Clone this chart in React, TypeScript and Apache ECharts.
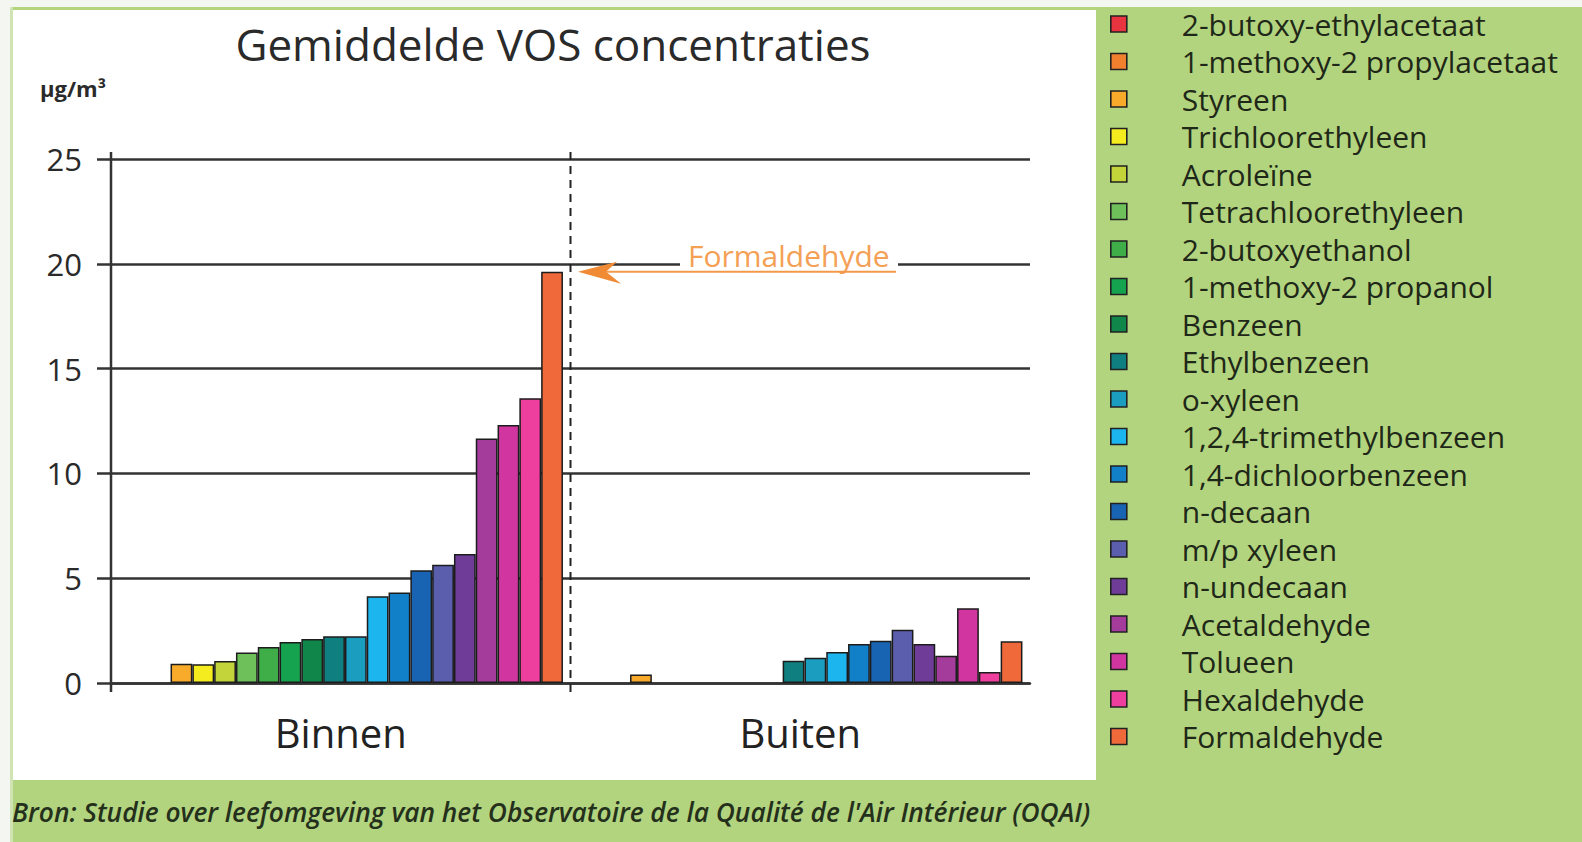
import React, { useEffect, useRef } from 'react';
import * as echarts from 'echarts';

// ---------- data ----------
const groups = ['Binnen', 'Buiten'];
const species = [
  '2-butoxy-ethylacetaat',
  '1-methoxy-2 propylacetaat',
  'Styreen',
  'Trichloorethyleen',
  'Acroleïne',
  'Tetrachloorethyleen',
  '2-butoxyethanol',
  '1-methoxy-2 propanol',
  'Benzeen',
  'Ethylbenzeen',
  'o-xyleen',
  '1,2,4-trimethylbenzeen',
  '1,4-dichloorbenzeen',
  'n-decaan',
  'm/p xyleen',
  'n-undecaan',
  'Acetaldehyde',
  'Tolueen',
  'Hexaldehyde',
  'Formaldehyde',
];
const binnenValues = [null, null, 0.92, 0.9, 1.05, 1.45, 1.72, 1.96, 2.1, 2.23, 2.23, 4.14, 4.32, 5.38, 5.64, 6.16, 11.67, 12.31, 13.58, 19.62];
const buitenValues = [null, null, 0.4, null, null, null, null, null, null, 1.06, 1.21, 1.48, 1.86, 2.01, 2.54, 1.86, 1.3, 3.57, 0.53, 1.99];
const speciesColors = [
  '#e8343f', '#f07f2e', '#f8aa2a', '#f4ec1e', '#c3d43a', '#6ec15a', '#3fae49', '#16a350',
  '#11864a', '#0f7f7f', '#1a9dbf', '#1cb5ee', '#1280c9', '#1963b3', '#5a5ead', '#6f3c98',
  '#a43c9c', '#d1359f', '#ef3f9e', '#f0693a',
];
const yMin = 0;
const yMax = 25;
const yInterval = 5;
const titleText = 'Gemiddelde VOS concentraties';
const unitText = 'µg/m³';
const annotationText = 'Formaldehyde';
const sourceText = "Bron: Studie over leefomgeving van het Observatoire de la Qualité de l'Air Intérieur (OQAI)";

// ---------- layout ----------
const W = 1582;
const H = 842;
const FONT = "'Open Sans', 'Noto Sans', sans-serif";
const gridLeft = 111;
const gridWidth = 919;
const gridTop = 159;
const gridBottom = 159;
const barShift = 26;
const plotTop = gridTop;
const plotBottom = H - gridBottom;
const yPix = (v: number) => plotBottom - ((v - yMin) / (yMax - yMin)) * (plotBottom - plotTop);

export default function App() {
  const ref = useRef<HTMLDivElement>(null);

  useEffect(() => {
    if (!ref.current) return;
    const chart = echarts.init(ref.current, null, { renderer: 'svg' });

    const series = species.map((name, i) => ({
      name,
      type: 'bar',
      xAxisIndex: 1,
      yAxisIndex: 1,
      stack: i < 2 ? species[2] : name,
      barWidth: 21.8,
      barGap: '0%',
      data: [binnenValues[i], buitenValues[i]],
      itemStyle: { color: speciesColors[i], borderColor: '#1c1c1c', borderWidth: 1.5 },
      z: 3,
    }));

    const dividerX = gridLeft + gridWidth / 2;
    const arrowY = yPix(20) + 8;

    chart.setOption({
      animation: false,
      backgroundColor: 'transparent',
      color: speciesColors,
      title: {
        text: titleText,
        left: 548,
        textAlign: 'center',
        top: 17,
        textStyle: { fontFamily: FONT, fontSize: 44, fontWeight: 'normal', color: '#2a2a2a' },
      },
      legend: {
        orient: 'vertical',
        left: 1110,
        top: 9,
        padding: 0,
        icon: 'rect',
        itemWidth: 16,
        itemHeight: 16,
        itemGap: 7.5,
        selectedMode: false,
        data: species,
        itemStyle: { borderColor: '#222', borderWidth: 1.6 },
        textStyle: {
          fontFamily: FONT,
          fontSize: 30,
          lineHeight: 30,
          color: '#1f2818',
          padding: [0, 0, 0, 50],
        },
      },
      grid: [
        { left: gridLeft, width: gridWidth, top: gridTop, bottom: gridBottom, containLabel: false },
        { left: gridLeft + barShift, width: gridWidth, top: gridTop, bottom: gridBottom, containLabel: false },
      ],
      xAxis: [
        {
          type: 'category',
          gridIndex: 0,
          data: groups,
          axisLine: { show: true, lineStyle: { color: '#333', width: 2.5 } },
          axisTick: { show: false },
          axisLabel: { fontFamily: FONT, fontSize: 40, color: '#222', margin: 29 },
          splitLine: { show: false },
        },
        { type: 'category', gridIndex: 1, data: groups, show: false },
      ],
      yAxis: [
        {
          type: 'value',
          gridIndex: 0,
          min: yMin,
          max: yMax,
          interval: yInterval,
          axisLine: { show: false },
          axisTick: { show: true, length: 14, lineStyle: { color: '#333', width: 2.5 } },
          axisLabel: { fontFamily: FONT, fontSize: 31, color: '#2a2a2a', margin: 29 },
          splitLine: { show: true, lineStyle: { color: '#333', width: 2.5 } },
        },
        { type: 'value', gridIndex: 1, min: yMin, max: yMax, interval: yInterval, show: false },
      ],
      series,
      graphic: [
        {
          type: 'text',
          left: 40,
          top: 77,
          style: { text: unitText, fontFamily: FONT, fontSize: 22, fontWeight: 'bold', fill: '#2a2a2a' },
        },
        // y axis line (extends slightly beyond range)
        {
          type: 'line',
          z: 4,
          shape: { x1: gridLeft, y1: plotTop - 7, x2: gridLeft, y2: plotBottom + 9 },
          style: { stroke: '#333', lineWidth: 2.5 },
        },
        // dashed divider
        {
          type: 'line',
          z: 4,
          shape: { x1: dividerX, y1: plotTop - 7, x2: dividerX, y2: plotBottom + 9 },
          style: { stroke: '#222', lineWidth: 2, lineDash: [8, 6] },
        },
        // annotation background
        {
          type: 'rect',
          z: 5,
          shape: { x: 680, y: yPix(20) - 6, width: 218, height: 12 },
          style: { fill: '#ffffff' },
        },
        {
          type: 'text',
          z: 6,
          x: 688,
          y: yPix(20) - 8,
          style: {
            text: annotationText,
            fontFamily: FONT,
            fontSize: 30,
            fill: '#f4a055',
            verticalAlign: 'middle',
          },
        },
        {
          type: 'line',
          z: 6,
          shape: { x1: 600, y1: arrowY, x2: 896, y2: arrowY },
          style: { stroke: '#f39a4a', lineWidth: 2 },
        },
        {
          type: 'polygon',
          z: 6,
          shape: {
            points: [
              [578, arrowY],
              [617, arrowY - 10],
              [606, arrowY],
              [621, arrowY + 12],
            ],
          },
          style: { fill: '#f08a35' },
        },
        {
          type: 'text',
          left: 12,
          top: 799,
          style: {
            text: sourceText,
            fontFamily: FONT,
            fontSize: 26.3,
            fontStyle: 'italic',
            fontWeight: 600,
            fill: '#25301c',
          },
        },
      ],
    });

    return () => chart.dispose();
  }, []);

  return (
    <div style={{ position: 'absolute', left: 0, top: 0, width: W, height: H, background: '#f4f6f1', overflow: 'hidden' }}>
      <div style={{ position: 'absolute', left: 10, top: 7, width: W - 10, height: H - 7, background: '#b2d47e' }} />
      <div style={{ position: 'absolute', left: 10, top: 7, width: 3, height: H - 7, background: '#cfe4b2' }} />
      <div style={{ position: 'absolute', left: 13, top: 10, width: 1083, height: 770, background: '#ffffff' }} />
      <div ref={ref} style={{ position: 'absolute', left: 0, top: 0, width: W, height: H }} />
    </div>
  );
}
